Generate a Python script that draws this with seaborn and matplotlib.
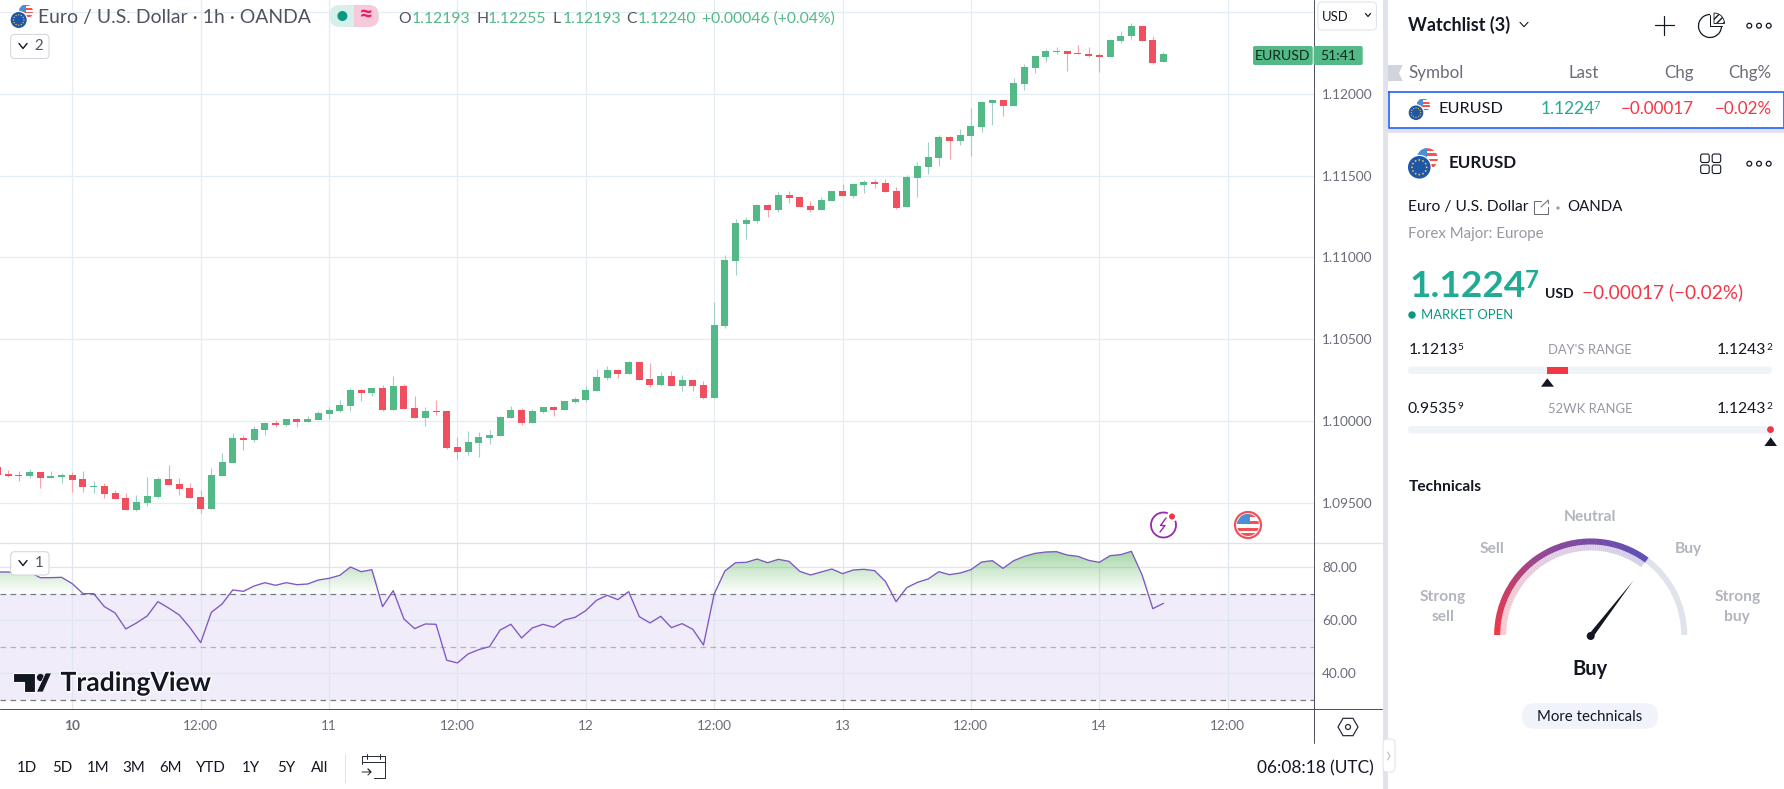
import numpy as np
import pandas as pd
import matplotlib
matplotlib.use('Agg')
import matplotlib.pyplot as plt
import matplotlib.patheffects as pe
import seaborn as sns
from matplotlib.patches import Circle, Wedge, Rectangle, FancyBboxPatch, Polygon, Arc

# hours from midnight on the 10th
bar_hours = list(range(-7, 103))

open_prices = [1.09721,1.09678,1.09672,1.09666,1.09690,1.09654,1.09660,1.09672,1.09648,1.09599,
    1.09605,1.09562,1.09531,1.09458,1.09501,1.09538,1.09648,1.09617,1.09593,1.09538,
    1.09464,1.09666,1.09745,1.09898,1.09886,1.09947,1.09990,1.09978,1.10014,1.09996,
    1.10008,1.10045,1.10063,1.10094,1.10191,1.10173,1.10204,1.10069,1.10216,1.10081,
    1.10020,1.10063,1.10063,1.09843,1.09813,1.09868,1.09898,1.09910,1.10020,1.10069,
    1.09990,1.10057,1.10088,1.10069,1.10118,1.10130,1.10186,1.10266,1.10315,1.10290,
    1.10364,1.10260,1.10223,1.10278,1.10217,1.10254,1.10223,1.10143,1.10579,1.10978,
    1.11205,1.11223,1.11319,1.11287,1.11380,1.11367,1.11313,1.11287,1.11342,1.11403,
    1.11373,1.11441,1.11460,1.11453,1.11403,1.11307,1.11484,1.11551,1.11606,1.11734,
    1.11709,1.11740,1.11795,1.11941,1.11959,1.11923,1.12057,1.12155,1.12222,1.12258,
    1.12264,1.12252,1.12246,1.12234,1.12222,1.12325,1.12350,1.12417,1.12331,1.12193]
high_prices = [1.09730,1.09703,1.09696,1.09709,1.09690,1.09696,1.09684,1.09690,1.09696,1.09635,
    1.09623,1.09580,1.09562,1.09550,1.09660,1.09660,1.09733,1.09654,1.09623,1.09580,
    1.09715,1.09806,1.09929,1.09916,1.09971,1.09996,1.10008,1.10014,1.10020,1.10033,
    1.10063,1.10088,1.10130,1.10204,1.10198,1.10204,1.10222,1.10277,1.10228,1.10155,
    1.10088,1.10130,1.10063,1.09904,1.09941,1.09935,1.09947,1.10033,1.10094,1.10081,
    1.10075,1.10088,1.10094,1.10124,1.10149,1.10216,1.10321,1.10339,1.10321,1.10370,
    1.10364,1.10358,1.10303,1.10309,1.10284,1.10254,1.10247,1.10726,1.11014,1.11233,
    1.11250,1.11329,1.11325,1.11397,1.11403,1.11376,1.11342,1.11367,1.11403,1.11447,
    1.11455,1.11476,1.11481,1.11481,1.11428,1.11502,1.11581,1.11703,1.11746,1.11740,
    1.11782,1.11911,1.11953,1.11965,1.11965,1.12094,1.12185,1.12228,1.12276,1.12283,
    1.12264,1.12301,1.12283,1.12252,1.12337,1.12386,1.12435,1.12417,1.12356,1.12255]
low_prices = [1.09672,1.09660,1.09635,1.09654,1.09593,1.09654,1.09623,1.09568,1.09568,1.09562,
    1.09531,1.09525,1.09458,1.09452,1.09483,1.09531,1.09611,1.09550,1.09531,1.09440,
    1.09464,1.09666,1.09745,1.09825,1.09874,1.09916,1.09965,1.09971,1.09965,1.09996,
    1.10008,1.10014,1.10057,1.10063,1.10124,1.10155,1.10063,1.10069,1.10075,1.10020,
    1.09971,1.10039,1.09831,1.09770,1.09794,1.09782,1.09861,1.09910,1.10020,1.09978,
    1.09990,1.10051,1.10033,1.10069,1.10112,1.10118,1.10186,1.10254,1.10266,1.10290,
    1.10254,1.10211,1.10217,1.10217,1.10186,1.10186,1.10137,1.10143,1.10566,1.10892,
    1.11112,1.11211,1.11250,1.11279,1.11334,1.11308,1.11279,1.11287,1.11342,1.11373,
    1.11363,1.11392,1.11424,1.11397,1.11296,1.11307,1.11368,1.11508,1.11557,1.11600,
    1.11685,1.11618,1.11764,1.11807,1.11862,1.11923,1.12026,1.12130,1.12197,1.12246,
    1.12142,1.12240,1.12222,1.12136,1.12222,1.12313,1.12337,1.12325,1.12185,1.12193]
close_prices = [1.09672,1.09666,1.09666,1.09690,1.09654,1.09666,1.09672,1.09641,1.09599,1.09605,
    1.09556,1.09525,1.09458,1.09507,1.09544,1.09648,1.09611,1.09586,1.09531,1.09464,
    1.09672,1.09751,1.09898,1.09886,1.09953,1.09990,1.09978,1.10014,1.09996,1.10014,
    1.10051,1.10069,1.10100,1.10191,1.10173,1.10204,1.10069,1.10216,1.10075,1.10020,
    1.10063,1.10057,1.09837,1.09813,1.09874,1.09904,1.09916,1.10026,1.10069,1.09990,
    1.10063,1.10088,1.10069,1.10124,1.10136,1.10191,1.10272,1.10315,1.10290,1.10364,
    1.10254,1.10223,1.10278,1.10217,1.10254,1.10217,1.10143,1.10585,1.10984,1.11211,
    1.11229,1.11319,1.11287,1.11380,1.11361,1.11308,1.11287,1.11348,1.11403,1.11373,
    1.11447,1.11460,1.11447,1.11397,1.11300,1.11490,1.11557,1.11612,1.11734,1.11709,
    1.11746,1.11801,1.11947,1.11959,1.11923,1.12063,1.12161,1.12228,1.12264,1.12264,
    1.12246,1.12240,1.12228,1.12222,1.12331,1.12356,1.12417,1.12325,1.12191,1.12240]

rsi_values = [78.24,78.24,77.74,78.24,76.10,76.10,76.23,73.84,70.06,70.06,
    65.16,62.77,56.73,59.00,61.64,67.04,64.65,62.01,57.23,51.57,
    63.02,66.16,71.45,70.94,72.96,74.21,73.21,74.21,73.46,73.71,
    75.22,75.85,76.98,80.13,78.36,79.12,65.16,71.19,60.50,56.86,
    58.62,58.49,44.91,43.90,47.30,48.93,50.06,56.35,58.49,53.33,
    57.11,58.49,57.36,60.13,61.13,63.65,67.55,69.43,67.80,70.82,
    61.38,59.00,61.51,57.23,58.74,56.60,50.69,69.94,78.62,81.76,
    81.89,83.14,81.76,83.02,82.26,78.49,77.11,78.24,79.37,77.61,
    78.99,79.25,78.74,74.72,67.04,72.33,74.34,75.60,78.36,77.23,
    77.86,79.12,82.01,82.52,79.62,82.52,84.15,85.28,85.79,85.91,
    84.65,84.15,82.64,81.89,84.40,84.78,86.04,77.11,64.40,66.41]

price_ticks = [1.095, 1.10, 1.105, 1.11, 1.115, 1.12, 1.125]
price_tick_labels = ['1.09500', '1.10000', '1.10500', '1.11000', '1.11500', '1.12000', '']
rsi_ticks = [40, 60, 80]
rsi_tick_labels = ['40.00', '60.00', '80.00']
time_ticks = [0, 12, 24, 36, 48, 60, 72, 84, 96, 108]
time_tick_labels = ['10', '12:00', '11', '12:00', '12', '12:00', '13', '12:00', '14', '12:00']
range_buttons = ['1D', '5D', '1M', '3M', '6M', 'YTD', '1Y', '5Y', 'All']
range_button_x = [27, 62, 98, 134, 170, 211, 251, 286, 320]

GREEN = '#53b987'
RED = '#ef4f5f'
TEAL = '#22ab94'
SELL = '#f23645'
DARK = '#131722'
GREY = '#6a6d78'
LIGHT_GREY = '#9598a1'
GRID = '#e3edf3'
BORDER = '#e0e3eb'

W, H = 1784, 789
AXIS_X = 1313.6
PANE_Y = 542.7
BOTTOM_Y = 709.3

sns.set_theme(style='white')
plt.rcParams['font.family'] = ['Lato', 'DejaVu Sans']

df = pd.DataFrame({'hour': bar_hours, 'open': open_prices, 'high': high_prices,
                   'low': low_prices, 'close': close_prices, 'rsi': rsi_values})
df['up'] = df['close'] >= df['open']

fig = plt.figure(figsize=(W / 100, H / 100), dpi=100, facecolor='white')


def px_axes(x0, y0, x1, y1):
    return fig.add_axes([x0 / W, 1 - y1 / H, (x1 - x0) / W, (y1 - y0) / H])


bar_px = 10.698
xlim = (-72.3 / bar_px, (AXIS_X - 72.3) / bar_px)

# candles
ax = px_axes(0, 0, AXIS_X, PANE_Y)
ax.bar(df['hour'], (df['close'] - df['open']).abs(), bottom=df[['open', 'close']].min(axis=1),
       width=0.654, color=np.where(df['up'], GREEN, RED), linewidth=0, zorder=3)
ax.vlines(df['hour'], df['low'], df['high'], colors=np.where(df['up'], '#a3cfcb', '#f6a3ae'),
          linewidth=0.8, zorder=2.5)
ax.set_xlim(*xlim)
ax.set_ylim(1.09257, 1.12573)
ax.set_xticks(time_ticks)
ax.set_yticks(price_ticks)
ax.set_yticklabels(price_tick_labels)
ax.yaxis.tick_right()
ax.tick_params(axis='y', length=0, pad=6, labelsize=9.8, labelcolor=GREY)
ax.tick_params(axis='x', length=0, labelbottom=False)
ax.grid(True, color=GRID, linewidth=0.9)
ax.set_axisbelow(True)
for s in ax.spines.values():
    s.set_visible(False)

# rsi pane
ax2 = px_axes(0, PANE_Y, AXIS_X, BOTTOM_Y)
ax2.axhspan(30, 70, color='#f0ecf9', linewidth=0, zorder=0.4)
sns.lineplot(data=df, x='hour', y='rsi', ax=ax2, color='#7e57c2', linewidth=0.95, zorder=4)
ax2.set_xlabel('')
ax2.set_ylabel('')

# green shading above the 70 line
shade = np.zeros((60, 1, 4))
shade[..., 0] = 0.30
shade[..., 1] = 0.69
shade[..., 2] = 0.31
shade[..., 3] = np.linspace(0, 0.62, 60).reshape(-1, 1)
img = ax2.imshow(shade, extent=[xlim[0], xlim[1], 70, 90], origin='lower', aspect='auto', zorder=1.5)
above = ax2.fill_between(df['hour'], 70, df['rsi'].clip(lower=70), color='none', linewidth=0)
img.set_clip_path(above.get_paths()[0], transform=ax2.transData)

ax2.axhline(70, color='#787b86', linewidth=0.9, dashes=(4.5, 3.5), zorder=2)
ax2.axhline(50, color='#b5b0c0', linewidth=0.9, dashes=(4.5, 3.5), zorder=2)
ax2.axhline(30, color='#787b86', linewidth=0.9, dashes=(4.5, 3.5), zorder=2)

ax2.set_xlim(*xlim)
ax2.set_ylim(26.4, 89.3)
ax2.set_xticks(time_ticks)
ax2.set_xticklabels(time_tick_labels)
ax2.get_xticklabels()[0].set_fontweight('bold')
ax2.set_yticks(rsi_ticks)
ax2.set_yticklabels(rsi_tick_labels)
ax2.yaxis.tick_right()
ax2.tick_params(axis='y', length=0, pad=6, labelsize=9.8, labelcolor=GREY)
ax2.tick_params(axis='x', length=0, pad=8, labelsize=9.8, labelcolor=GREY)
ax2.grid(True, color='#e0e6f0', linewidth=0.9)
ax2.set_axisbelow(True)
for s in ax2.spines.values():
    s.set_visible(False)

# overlay in pixel coordinates for the interface bits
ui = fig.add_axes([0, 0, 1, 1], zorder=5)
ui.set_xlim(0, W)
ui.set_ylim(H, 0)
ui.axis('off')
ui.patch.set_alpha(0)


def label(x, y, s, size, color=DARK, ha='left', weight='normal', va='center', **kw):
    return ui.text(x, y, s, fontsize=size * 0.72, color=color, ha=ha, va=va, fontweight=weight, **kw)


def line(xs, ys, color=DARK, lw=1.0, **kw):
    ui.plot(xs, ys, color=color, linewidth=lw * 0.72, solid_capstyle='round', **kw)


def box(x0, y0, x1, y1, face='white', edge='none', lw=1.0, r=4, z=2):
    p = FancyBboxPatch((x0, y0), x1 - x0, y1 - y0, boxstyle=f'round,pad=0,rounding_size={r}',
                       facecolor=face, edgecolor=edge, linewidth=lw * 0.72, zorder=z)
    ui.add_patch(p)


def rect(x0, y0, x1, y1, color, z=2):
    ui.add_patch(Rectangle((x0, y0), x1 - x0, y1 - y0, facecolor=color, edgecolor='none', zorder=z))


def chevron(x, y, w=4, h=2.5, color=DARK, lw=1.4):
    line([x - w, x, x + w], [y - h, y + h, y - h], color=color, lw=lw, zorder=4)


def dots(y, xs, color=DARK):
    for x in xs:
        ui.add_patch(Circle((x, y), 2.4, facecolor='none', edgecolor=color, linewidth=0.9, zorder=4))


def flag(eu_x, eu_y, eu_r, us_x, us_y, us_r):
    clip = Circle((us_x, us_y), us_r, transform=ui.transData)
    ui.add_patch(Circle((us_x, us_y), us_r, facecolor='white', edgecolor='none', zorder=3))
    for k in range(4):
        top = us_y - us_r + k * us_r / 2
        r = Rectangle((us_x - us_r, top), 2 * us_r, us_r / 4, facecolor='#f1554f', edgecolor='none', zorder=3)
        ui.add_patch(r)
        r.set_clip_path(clip)
    c = Rectangle((us_x - us_r, us_y - us_r), us_r, us_r, facecolor='#4a90d9', edgecolor='none', zorder=3)
    ui.add_patch(c)
    c.set_clip_path(clip)
    ui.add_patch(Circle((eu_x, eu_y), eu_r + 1.2, facecolor='white', edgecolor='none', zorder=3))
    ui.add_patch(Circle((eu_x, eu_y), eu_r, facecolor='#1f57a8', edgecolor='none', zorder=3))
    for a in np.arange(0, 360, 30):
        ui.add_patch(Circle((eu_x + 0.65 * eu_r * np.cos(np.radians(a)), eu_y + 0.65 * eu_r * np.sin(np.radians(a))),
                            0.07 * eu_r + 0.1, facecolor='#f3c93a', edgecolor='none', zorder=3))


# frame lines
line([0, 1382], [PANE_Y, PANE_Y], color=BORDER, lw=1.3)
line([0, 1382], [BOTTOM_Y, BOTTOM_Y], color='#50535e', lw=1.0)
line([AXIS_X, AXIS_X], [0, 743], color='#50535e', lw=1.0)
rect(1382.5, 0, 1388, H, BORDER)

# header
flag(18.7, 20, 8, 26, 11.5, 7)
label(38, 17, 'Euro / U.S. Dollar · 1h · OANDA', 19.4, color='#50535e')
box(329.5, 5, 378.6, 27, face='#d8f0ec', r=10)
box(354, 5, 378.6, 27, face='#f8c9da', r=10)
rect(354, 5, 364, 27, '#f8c9da', z=2)
ui.add_patch(Circle((342.4, 16), 5, facecolor='#089981', edgecolor='none', zorder=3))
label(365.5, 14.5, '≈', 25, color='#e91e63', ha='center', weight='bold')
for x_l, x_v, l, v in [(398.7, 411.6, 'O', '1.12193'), (476, 487.5, 'H', '1.12255'),
                       (552.7, 562.5, 'L', '1.12193'), (626, 637.5, 'C', '1.12240')]:
    label(x_l, 19, l, 15.7, color='#50535e')
    label(x_v, 19, v, 15.7, color=GREEN)
label(702, 19, '+0.00046 (+0.04%)', 15.7, color=GREEN)
box(10.7, 34.4, 49, 58.5, edge='#d1d4dc')
chevron(23, 46)
label(39, 46, '2', 15, color='#50535e', ha='center')
box(10.7, 551.7, 49, 575, edge='#d1d4dc')
chevron(23, 563)
label(39, 563, '1', 15, color='#50535e', ha='center')
box(1318, 2, 1376.5, 30, edge=BORDER)
label(1322, 17, 'USD', 13, color=DARK)
chevron(1368, 15, w=2.5, h=1.5, lw=1.2)

# price tag
box(1253, 46, 1312.7, 65, face=GREEN, r=2)
box(1313.6, 46, 1362.7, 65, face=GREEN, r=2)
label(1282.8, 55.5, 'EURUSD', 14, color='#12281e', ha='center')
label(1338, 55.5, '51:41', 14, color='#12281e', ha='center')

# event icons
ui.add_patch(Arc((1163.5, 525), 25, 25, theta1=-20, theta2=290, color='#9c27b0', linewidth=1.3, zorder=3))
line([1166, 1160.5, 1165, 1160], [518, 525.5, 525.5, 532], color='#9c27b0', lw=1.4)
ui.add_patch(Circle((1172, 516.5), 3, facecolor=SELL, edgecolor='none', zorder=4))
flag_clip = Circle((1248, 525), 11, transform=ui.transData)
ui.add_patch(Circle((1248, 525), 13, facecolor='white', edgecolor='#f0525a', linewidth=1.6, zorder=3))
for top in [514, 521, 528, 533]:
    s = Rectangle((1237, top), 22, 2.6, facecolor='#f0525a', edgecolor='none', zorder=3)
    ui.add_patch(s)
    s.set_clip_path(flag_clip)
s = Rectangle((1237, 514), 13, 10, facecolor='#4a90d9', edgecolor='none', zorder=3)
ui.add_patch(s)
s.set_clip_path(flag_clip)

# logo
ui.add_patch(Polygon([(13.4, 673), (34.8, 673), (34.8, 692), (23.5, 692), (23.5, 681.5), (13.4, 681.5)],
                     facecolor=DARK, edgecolor='white', linewidth=0.8, zorder=3))
ui.add_patch(Circle((40.5, 677.5), 4, facecolor=DARK, edgecolor='white', linewidth=0.5, zorder=3))
ui.add_patch(Polygon([(45.5, 673), (51.5, 673), (43, 692), (36.5, 692)], facecolor=DARK, edgecolor='white',
                     linewidth=0.5, zorder=3))
logo = label(60.5, 683, 'TradingView', 26.5, weight='bold', color=DARK)
logo.set_path_effects([pe.withStroke(linewidth=2, foreground='white')])

# gear
hex_a = np.radians(np.arange(0, 360, 60))
ui.add_patch(Polygon(np.c_[1348 + 10 * np.cos(hex_a), 727 + 10 * np.sin(hex_a)], closed=True,
                     facecolor='none', edgecolor='#2a2e39', linewidth=0.9, zorder=3))
ui.add_patch(Circle((1348, 727), 2.5, facecolor='none', edgecolor='#2a2e39', linewidth=0.9, zorder=3))

# bottom bar
for x, s in zip(range_button_x, range_buttons):
    label(x, 767.5, s, 15, ha='center', color=DARK)
line([344.6, 344.6], [754, 782], color=BORDER, lw=1)
line([362, 362, 385, 385, 374], [764, 756, 756, 778, 778], color='#2a2e39', lw=1)
line([362, 385], [762, 762], color='#2a2e39', lw=1)
line([367, 367], [754, 759], color='#2a2e39', lw=1)
line([380, 380], [754, 759], color='#2a2e39', lw=1)
line([362, 371, 368, 371, 368], [772, 772, 769, 772, 775], color='#2a2e39', lw=1)
label(1374, 768, '06:08:18 (UTC)', 17.3, ha='right', color=DARK)
box(1383, 739, 1395, 772, edge=BORDER, r=4)
line([1387.5, 1390, 1387.5], [752, 756, 760], color='#b2b5be', lw=1)

# watchlist panel
label(1408.3, 25, 'Watchlist (3)', 18, weight='bold', color=DARK)
chevron(1524, 24.5, w=4, h=2.2, lw=1.1)
line([1664, 1664], [15.5, 34.5], lw=1.2)
line([1654.5, 1673.5], [25, 25], lw=1.2)
ui.add_patch(Arc((1710, 26), 23, 23, theta1=0, theta2=270, color=DARK, linewidth=0.9, zorder=3))
line([1710, 1710, 1721.5], [14.5, 26, 26], lw=1)
ui.add_patch(Wedge((1714, 23.5), 10.5, -90, 0, facecolor='none', edgecolor=DARK, linewidth=0.6, hatch='/////', zorder=3))
dots(25.7, [1749.3, 1759, 1768.7])

ui.add_patch(Polygon([(1388, 65), (1402.7, 65), (1399, 73), (1402.7, 81), (1388, 81)], facecolor='#d1d4dc',
                     edgecolor='none', zorder=3))
label(1408, 72.7, 'Symbol', 17, color=GREY)
label(1599, 72.7, 'Last', 17, color=GREY, ha='right')
label(1693.3, 72.7, 'Chg', 17, color=GREY, ha='right')
label(1771.7, 72.7, 'Chg%', 17, color=GREY, ha='right')
rect(1388, 127.7, W, 133, BORDER)
line([1389, W, W, 1389, 1389], [91.5, 91.5, 127.5, 127.5, 91.5], color='#2962ff', lw=1.7)
flag(1416, 112.7, 7.3, 1423.3, 105.3, 6.7)
label(1438.7, 108.7, 'EURUSD', 16.2)
label(1541, 108.7, '1.1224', 17.4, color=TEAL)
label(1593, 105.5, '7', 11, color=TEAL)
label(1693.3, 108.7, '−0.00017', 17, color=SELL, ha='right')
label(1771.7, 108.7, '−0.02%', 17, color=SELL, ha='right')

# symbol details
flag(1419.3, 167.3, 11.3, 1427.3, 158.7, 10.5)
label(1448.7, 162.7, 'EURUSD', 17, weight='bold')
for gx in (1700.7, 1712.2):
    for gy in (154, 165):
        box(gx, gy, gx + 8.5, gy + 8.5, edge=DARK, lw=1.1, r=2)
dots(163.7, [1749.3, 1759, 1768.7])
label(1408.5, 206.7, 'Euro / U.S. Dollar', 15.6)
line([1541, 1534, 1534, 1548, 1548], [200.5, 200.5, 214, 214, 207], color=GREY, lw=1)
line([1541, 1548.3, 1548.3], [207, 200, 204], color=GREY, lw=1)
ui.add_patch(Circle((1558, 208), 1.6, facecolor=LIGHT_GREY, edgecolor='none', zorder=3))
label(1567.7, 206.7, 'OANDA', 15)
label(1408.5, 233.7, 'Forex Major: Europe', 15, color=LIGHT_GREY)
label(1410, 297, '1.1224', 37, color=TEAL, weight='bold', va='baseline')
label(1524.5, 280, '7', 24, color=TEAL, weight='bold')
label(1544.7, 297.5, 'USD', 14, weight='bold', va='baseline')
label(1582, 292, '−0.00017 (−0.02%)', 19, color=SELL)
ui.add_patch(Circle((1412, 315), 3.7, facecolor='#089981', edgecolor='none', zorder=3))
label(1420.7, 315, 'MARKET OPEN', 13, color='#089981')

label(1408.7, 350, '1.1213', 15.8)
label(1457, 347.5, '5', 10)
label(1590, 350, "DAY'S RANGE", 13, color=LIGHT_GREY, ha='center')
label(1766, 350, '1.1243', 15.8, ha='right')
label(1766.5, 347.5, '2', 10)
box(1408, 366.7, 1772, 374, face='#f0f3fa', r=3.5)
rect(1546.7, 366.7, 1568, 374, SELL, z=3)
ui.add_patch(Polygon([(1547.3, 378.3), (1554, 386.7), (1541, 386.7)], facecolor=DARK, edgecolor='none', zorder=3))
label(1408, 408.7, '0.9535', 15.8)
label(1457, 406, '9', 10)
label(1590, 408.7, '52WK RANGE', 13, color=LIGHT_GREY, ha='center')
label(1766, 408.7, '1.1243', 15.8, ha='right')
label(1766.5, 406, '2', 10)
box(1408, 426, 1772, 433.3, face='#f0f3fa', r=3.5)
ui.add_patch(Circle((1770.5, 429.6), 3.4, facecolor=SELL, edgecolor='none', zorder=3))
ui.add_patch(Polygon([(1770.7, 437.3), (1777, 446), (1764.4, 446)], facecolor=DARK, edgecolor='none', zorder=3))

# technicals gauge
label(1408.3, 486.7, 'Technicals', 15.5, weight='bold')
cx, cy = 1590.7, 635
ui.add_patch(Wedge((cx, cy), 96.5, -53.5, 0, width=6, facecolor=BORDER, edgecolor='none', zorder=3))
gauge_stops = [(0.0, (0.95, 0.21, 0.27)), (0.5, (0.55, 0.28, 0.60)), (1.0, (0.36, 0.31, 0.72))]
steps = 90
for k in range(steps):
    t = k / steps
    a0 = 180 - t * 126.5
    a1 = a0 - 126.5 / steps - 0.3
    col = [np.interp(t, [s[0] for s in gauge_stops], [s[1][j] for s in gauge_stops]) for j in range(3)]
    ui.add_patch(Wedge((cx, cy), 96.5, -a0, -a1, width=6, facecolor=col, edgecolor='none', zorder=3))
    ui.add_patch(Wedge((cx, cy), 90.5, -a0, -a1, width=6, facecolor=col, alpha=0.22, edgecolor='none', zorder=3))
ui.add_patch(Polygon([(1633.3, 580.7), (1592.7, 637.5), (1588.7, 634.5)], facecolor=DARK, edgecolor='none', zorder=4))
ui.add_patch(Circle((1590.7, 636), 4, facecolor=DARK, edgecolor='none', zorder=4))
gauge_grey = '#b2b5be'
label(1590, 516.7, 'Neutral', 15.5, color=gauge_grey, ha='center', weight='bold')
label(1492, 549, 'Sell', 15.5, color=gauge_grey, ha='center', weight='bold')
label(1688, 549, 'Buy', 15.5, color=gauge_grey, ha='center', weight='bold')
label(1443, 597, 'Strong', 15.5, color=gauge_grey, ha='center', weight='bold')
label(1443, 616.7, 'sell', 15.5, color=gauge_grey, ha='center', weight='bold')
label(1737.3, 597, 'Strong', 15.5, color=gauge_grey, ha='center', weight='bold')
label(1737.3, 616.7, 'buy', 15.5, color=gauge_grey, ha='center', weight='bold')
label(1590, 668.8, 'Buy', 20, ha='center', weight='bold')
box(1522, 703.3, 1658, 728.7, face='#f0f3fa', r=12.7)
label(1590, 717, 'More technicals', 15, ha='center', zorder=4)

fig.savefig('out.png', dpi=100, facecolor='white')
